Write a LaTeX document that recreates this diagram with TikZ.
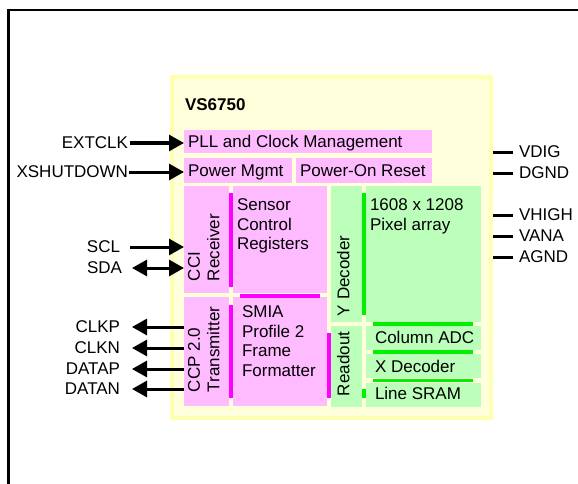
\documentclass[tikz,border=0pt]{standalone}
\usepackage{fontspec}
\setmainfont{Liberation Sans}
\usetikzlibrary{arrows.meta}
\definecolor{pinkbg}{HTML}{FFBBFF}
\definecolor{greenbg}{HTML}{BBFFBB}
\definecolor{magbar}{HTML}{FF00FF}
\definecolor{grnbar}{HTML}{00F000}
\definecolor{chipfill}{HTML}{FFFFDC}
\definecolor{chipline}{HTML}{FFFFB0}
\begin{document}
\begin{tikzpicture}[x=1pt,y=-1pt,
  pbox/.style={fill=pinkbg, draw=none, inner sep=0, outer sep=0, anchor=north west},
  gbox/.style={fill=greenbg, draw=none, inner sep=0, outer sep=0, anchor=north west},
  txt/.style={font=\fontsize{17}{19.5}\selectfont, inner sep=0, outer sep=0, text=black},
  rtxt/.style={txt, rotate=90, anchor=north west, align=left},
  sig/.style={line width=3pt, draw=black},
  tri/.tip={Triangle[length=15pt,width=16pt]}]
\useasboundingbox (0,0) rectangle (578,484);
% outer frame
\draw[line width=2.5pt] (8.5,484) -- (8.5,10) -- (578,10);
% chip
\node[draw=chipline, fill=chipfill, line width=4pt, minimum width=319pt, minimum height=341pt, anchor=north west, inner sep=0] (chip) at (170,75) {};
\node[txt, font=\fontsize{17}{19.5}\selectfont\bfseries, anchor=west] (title) at (185,105) {VS6750};
% pink blocks
\node[pbox, minimum width=248pt, minimum height=23pt] (pll) at (184,130) {};
\node[pbox, minimum width=108pt, minimum height=25pt] (pwr) at (184,158) {};
\node[pbox, minimum width=136pt, minimum height=25pt] (por) at (296,158) {};
\node[pbox, minimum width=45pt, minimum height=107pt] (cci) at (184,186) {};
\node[pbox, minimum width=94pt, minimum height=107pt] (scr) at (233,186) {};
\node[pbox, minimum width=45pt, minimum height=109pt] (ccp) at (184,297) {};
\node[pbox, minimum width=94pt, minimum height=109pt] (smia) at (233,297) {};
% green blocks
\node[gbox, minimum width=31pt, minimum height=136pt] (ydec) at (331,186) {};
\node[gbox, minimum width=115pt, minimum height=136pt] (pix) at (366,186) {};
\node[gbox, minimum width=31pt, minimum height=81pt] (rdo) at (331,326) {};
\node[gbox, minimum width=115pt, minimum height=24pt] (cadc) at (366,326) {};
\node[gbox, minimum width=115pt, minimum height=24pt] (xdec) at (366,354) {};
\node[gbox, minimum width=115pt, minimum height=24pt] (sram) at (366,383) {};
% bars
\fill[magbar] (229,193) rectangle (233,287);
\fill[magbar] (240,294) rectangle (320,297.5);
\fill[magbar] (229,305) rectangle (233,398);
\fill[magbar] (327,333) rectangle (331,398);
\fill[grnbar] (362,193) rectangle (365.5,315);
\fill[grnbar] (362,389) rectangle (365.5,398);
\fill[grnbar] (373,322) rectangle (473,325.5);
\fill[grnbar] (373,350) rectangle (473,353.5);
\fill[grnbar] (373,378.5) rectangle (473,382);
% block texts
\node[txt, anchor=base west] (pllt) at (188,147) {PLL and Clock Management};
\node[txt, anchor=base west] (pwrt) at (188,176) {Power Mgmt};
\node[txt, anchor=base west] (port) at (300,176) {Power-On Reset};
\node[txt, anchor=north west, align=left] (scrt) at (237,199) {Sensor\\Control\\Registers};
\node[txt, anchor=north west, align=left] (pixt) at (370,199) {1608 x 1208\\Pixel array};
\node[txt, anchor=north west, align=left] (smiat) at (242,306) {SMIA\\Profile 2\\Frame\\Formatter};
\node[txt, anchor=base west] (cadct) at (375,343) {Column ADC};
\node[txt, anchor=base west] (xdect) at (375,372) {X Decoder};
\node[txt, anchor=base west] (sramt) at (375,399) {Line SRAM};
\node[rtxt] (ccit) at (188,281) {CCI\\Receiver};
\node[rtxt] (ccpt) at (188,392) {CCP 2.0\\Transmitter};
\node[rtxt] (ydect) at (337,316) {Y Decoder};
\node[rtxt] (rdot) at (337,396) {Readout};
% left signals
\node[txt, anchor=east] (extclk) at (128,143) {EXTCLK};
\node[txt, anchor=east] (xshut) at (128,172) {XSHUTDOWN};
\node[txt, anchor=east] (scl) at (120,247) {SCL};
\node[txt, anchor=east] (sda) at (122,268) {SDA};
\node[txt, anchor=east] (clkp) at (120,327) {CLKP};
\node[txt, anchor=east] (clkn) at (120,348) {CLKN};
\node[txt, anchor=east] (datap) at (120,369) {DATAP};
\node[txt, anchor=east] (datan) at (120,389) {DATAN};
\draw[sig, -{tri}] ([xshift=2pt]extclk.east) -- (extclk.east -| pll.west);
\draw[sig, -{tri}] ([xshift=1pt]xshut.east) -- (xshut.east -| pwr.west);
\draw[sig, -{tri}] ([xshift=10pt]scl.east) -- (scl.east -| cci.west);
\draw[sig, {tri}-{tri}] ([xshift=10pt]sda.east) -- (sda.east -| cci.west);
\draw[sig, -{tri}] (clkp.east -| ccp.west) -- ([xshift=12pt]clkp.east);
\draw[sig, -{tri}] (clkn.east -| ccp.west) -- ([xshift=12pt]clkn.east);
\draw[sig, -{tri}] (datap.east -| ccp.west) -- ([xshift=12pt]datap.east);
\draw[sig, -{tri}] (datan.east -| ccp.west) -- ([xshift=12pt]datan.east);
% right pins
\node[txt, anchor=west] (vdig) at (519,152) {VDIG};
\node[txt, anchor=west] (dgnd) at (519,173) {DGND};
\node[txt, anchor=west] (vhigh) at (519,215) {VHIGH};
\node[txt, anchor=west] (vana) at (519,236) {VANA};
\node[txt, anchor=west] (agnd) at (519,257) {AGND};
\foreach \p in {vdig,dgnd,vhigh,vana,agnd}
  \draw[sig] (\p.west -| chip.east) -- ([xshift=-6pt]\p.west);
\end{tikzpicture}
\end{document}
